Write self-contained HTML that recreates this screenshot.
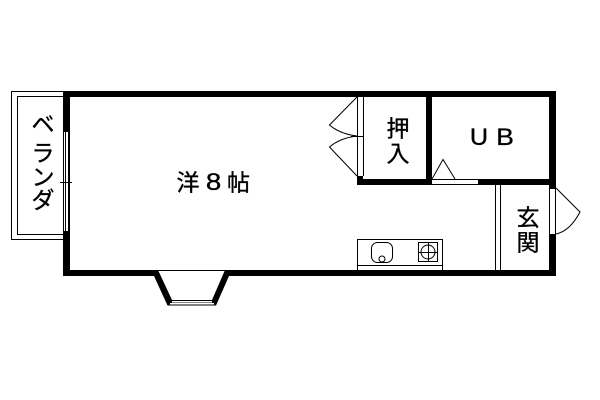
<!DOCTYPE html>
<html><head><meta charset="utf-8"><style>
html,body{margin:0;padding:0;background:#fff;width:600px;height:400px;overflow:hidden}
svg{display:block}
text{font-family:"Liberation Sans","Noto Sans CJK JP","IPAGothic",sans-serif;fill:#000;text-anchor:middle}
.j{stroke:#000;stroke-width:.35}
</style></head><body>
<svg width="600" height="400" viewBox="0 0 600 400" xmlns="http://www.w3.org/2000/svg">
<rect width="600" height="400" fill="#fff"/>
<g shape-rendering="crispEdges">
<!-- balcony -->
<path d="M63.5 91.5H11.5V239.5H63.5M63.5 96.5H17.5V234.5H63.5" fill="none" stroke="#000"/>
<!-- walls -->
<rect x="63" y="91" width="493" height="6"/>
<rect x="63" y="270" width="493" height="6"/>
<rect x="63" y="91" width="7" height="41"/>
<rect x="63" y="231" width="7" height="45"/>
<rect x="549" y="91" width="7" height="97"/>
<rect x="549" y="234" width="7" height="42"/>
<rect x="426" y="91" width="6" height="94"/>
<rect x="357" y="179" width="199" height="6"/>
<rect x="357" y="176" width="6" height="3"/>
<!-- UB door opening -->
<rect x="432" y="180" width="46" height="4" fill="#fff"/>
<!-- west window -->
<path d="M63.5 132V231M65.5 132V231M68.5 132V231M69.5 132V231M60 182.5H72" fill="none" stroke="#000"/>
<!-- closet door strip -->
<path d="M357.5 97V176M363.5 97V176M351 136.5H363" fill="none" stroke="#000"/>
<!-- partition -->
<path d="M495.5 185V270M500.5 185V270" fill="none" stroke="#000"/>
<!-- entrance strip -->
<path d="M549.5 188V234M555.5 188V234M549 188.5H556" fill="none" stroke="#000"/>
<!-- kitchen -->
<path d="M357.5 270V239.5H442.5V270M358 265.5H442" fill="none" stroke="#000"/>
<rect x="418.5" y="242.5" width="19" height="19" fill="none" stroke="#000"/>
</g>
<!-- swing doors -->
<g fill="none" stroke="#000" stroke-width="1">
<path d="M357 97L329.5 125Q340 134 357 136Q340 138 329.5 147L357 176"/>
<path d="M556 188L580 212Q570 231 556 234"/>
<path d="M432 179L443 159.5L455 179"/>
<rect x="371.5" y="242.5" width="21" height="20" rx="6" ry="6" fill="#fff"/>
<circle cx="382" cy="259" r="3"/>
<circle cx="428" cy="252" r="7" fill="#fff"/>
</g>
<path d="M428.5 243V262M419 252.5H438" stroke="#000" fill="none" shape-rendering="crispEdges"/>
<!-- bay window -->
<rect x="158" y="270" width="67" height="6" fill="#fff"/>
<path d="M158 270.5H225" stroke="#000" fill="none" shape-rendering="crispEdges"/>
<path d="M154 270L158 270L172 300H212L225 270L229 270L229 276L216 305.5H167.500L154 276Z" fill="#000"/>
<rect x="172" y="301" width="40" height="1.500" fill="#fff"/>
<rect x="170" y="303" width="44" height="1.500" fill="#fff"/>
<!-- labels -->
<g font-size="23" class="j">
<text x="188" y="190.500">洋</text>
<text x="238.500" y="190.500">帖</text>
<text x="398" y="136.500">押</text>
<text x="398" y="161.500">入</text>
<text x="528" y="225.500">玄</text>
<text x="528" y="250.500">関</text>
<text x="43" y="132">ベ</text>
<text x="43" y="161">ラ</text>
<text x="43" y="185">ン</text>
<text x="43" y="208">ダ</text>
<text transform="translate(213.500 190) scale(1.15 1)" font-size="24" x="0" y="0">8</text>
<text transform="translate(479 145) scale(1.05 1)" font-size="24" x="0" y="0">U</text>
<text transform="translate(505 145) scale(1.1 1)" font-size="24" x="0" y="0">B</text>
</g>
</svg>
</body></html>
